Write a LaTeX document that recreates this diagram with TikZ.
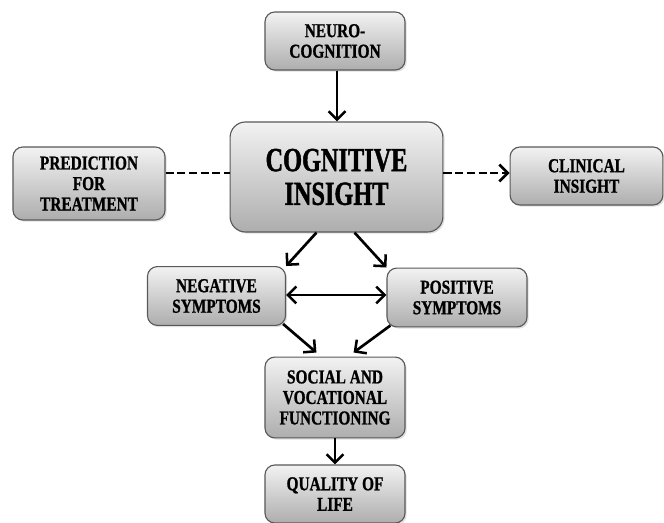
\documentclass[tikz,border=0pt]{standalone}
\usepackage{fontspec}
\newfontfamily\boxfont{Liberation Serif}[FakeStretch=0.78,BoldFeatures={FakeBold=1}]
\newfontfamily\bigboxfont{Liberation Serif}[FakeStretch=0.72,BoldFeatures={FakeBold=1.2}]
\usetikzlibrary{arrows.meta,shadows,calc}

\tikzset{
  box/.style={draw=black!65, line width=0.8pt, rounded corners=7pt,
    top color=white!95!black, bottom color=black!32,
    drop shadow={shadow xshift=1.2pt,shadow yshift=-1.2pt,opacity=0.25},
    align=center, inner sep=0pt,
    font=\boxfont\fontsize{14}{14.6}\selectfont\bfseries},
  tip/.tip={Straight Barb[length=6pt,width=12pt,line width=1.8pt]},
  arrow/.style={line width=1.9pt, -tip},
  dashline/.style={line width=2pt, dash pattern=on 5.7pt off 2.6pt}
}

\begin{document}
\begin{tikzpicture}[x=0.025cm,y=-0.025cm]
\useasboundingbox (0,0) rectangle (664,523);

\node[box, minimum width=3.5cm, minimum height=1.45cm] (neuro) at (335,41) {NEURO-\\COGNITION};
\node[box, minimum width=5.32cm, minimum height=2.75cm, rounded corners=11pt,
  font=\bigboxfont\fontsize{24}{24}\selectfont\bfseries] (cog) at (336.5,177) {COGNITIVE\\INSIGHT};
\node[box, minimum width=3.8cm, minimum height=1.825cm] (pred) at (89,183.5) {PREDICTION\\FOR\\TREATMENT};
\node[box, minimum width=3.82cm, minimum height=1.45cm] (clin) at (586.5,176) {CLINICAL\\INSIGHT};
\node[box, minimum width=3.45cm, minimum height=1.47cm] (neg) at (216.5,296) {NEGATIVE\\SYMPTOMS};
\node[box, minimum width=3.5cm, minimum height=1.47cm] (pos) at (457,297.5) {POSITIVE\\SYMPTOMS};
\node[box, minimum width=3.5cm, minimum height=2.02cm] (soc) at (335,397.5) {SOCIAL AND\\VOCATIONAL\\FUNCTIONING};
\node[box, minimum width=3.5cm, minimum height=1.45cm] (qol) at (335,494) {QUALITY OF\\LIFE};

% links
\draw[arrow] (neuro.south -| 337,0) -- (cog.north -| 337,0);
\draw[dashline] (pred.east |- 0,173) -- (cog.west |- 0,173);
\draw[arrow, dashline] (cog.east |- 0,173) -- (clin.west |- 0,173);
\draw[arrow] ($(cog.south)+(-20,0)$) -- (neg.north east);
\draw[arrow] ($(cog.south)+(18,0)$) -- (pos.north west);
\draw[arrow, tip-tip] (neg.east |- 0,295) -- (pos.west |- 0,295);
\draw[arrow] ($(neg.south east)+(-3,-2)$) -- ($(soc.north west)+(52,-4)$);
\draw[arrow] ($(pos.south west)+(4,-2)$) -- ($(soc.north east)+(-52,-4)$);
\draw[arrow] (soc) -- (qol);

\end{tikzpicture}
\end{document}
